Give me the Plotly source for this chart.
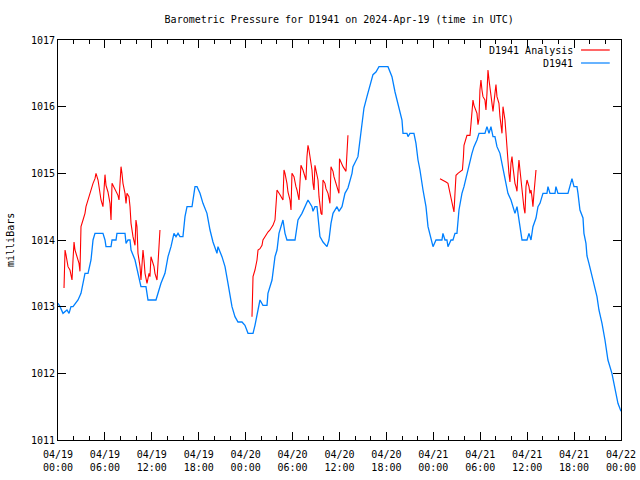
import pandas as pd
import plotly.graph_objects as go

START = "2024-04-19 00:00"

# D1941 observed pressure (hours since 04/19 00:00 UTC, mbar)
blue_h = [0.00, 0.26, 0.64, 1.15, 1.41, 1.66, 1.92, 2.30, 2.56, 2.94, 3.20, 3.45, 3.84, 4.22, 4.48, 4.73,
          5.75, 6.01, 6.14, 6.78, 6.91, 7.42, 7.54, 8.57, 8.70, 8.95, 9.21, 9.34, 9.85, 10.23, 10.61, 11.25,
          11.51, 12.53, 12.79, 13.17, 13.68, 14.07, 14.45, 14.83, 15.09, 15.35, 15.60, 15.98, 16.24, 16.50,
          17.14, 17.52, 17.78, 18.16, 18.54, 19.05, 19.44, 19.82, 20.33, 20.46, 20.97, 21.36, 21.74, 22.25,
          22.63, 23.02, 23.53, 23.91, 24.30, 24.94, 25.19, 25.45, 25.83, 26.21, 26.73, 26.85, 27.37, 27.75,
          28.01, 28.26, 28.77, 29.03, 29.28, 30.31, 30.69, 31.20, 31.59, 31.97, 32.48, 32.61, 32.86, 33.12,
          33.25, 33.50, 33.89, 34.40, 34.65, 34.91, 35.17, 35.68, 35.93, 36.32, 36.70, 37.08, 37.60, 37.72,
          38.36, 38.62, 38.87, 39.13, 39.51, 39.90, 40.28, 40.66, 41.05, 42.20, 42.71, 43.10, 43.48, 43.99,
          44.12, 44.63, 44.76, 45.01, 45.52, 45.78, 46.04, 46.29, 46.68, 47.06, 47.32, 47.70, 47.96, 48.34,
          49.10, 49.23, 49.49, 49.74, 49.87, 50.26, 50.51, 50.77, 51.02, 51.28, 51.66, 51.92, 52.30, 52.56,
          52.94, 53.20, 53.58, 53.84, 54.60, 54.86, 55.12, 55.37, 55.63, 55.88, 56.14, 56.52, 56.91, 57.16,
          57.54, 57.93, 58.18, 58.44, 58.70, 58.82, 59.08, 59.34, 59.98, 60.23, 60.49, 60.74, 61.13, 61.38,
          61.64, 62.02, 62.53, 62.66, 62.92, 63.56, 63.68, 63.94, 65.22, 65.47, 65.73, 65.99, 66.37, 66.50,
          66.75, 67.14, 67.26, 67.52, 67.65, 67.90, 68.29, 68.54, 68.93, 69.18, 69.57, 69.95, 70.33, 70.84,
          71.23, 71.61, 72.00]
blue_p = [1013.05, 1013.0, 1012.9, 1012.95, 1012.9, 1013.0, 1013.0, 1013.05, 1013.1, 1013.2, 1013.35, 1013.5,
          1013.5, 1013.7, 1014.0, 1014.1, 1014.1, 1014.0, 1013.9, 1013.9, 1014.0, 1014.0, 1014.1, 1014.1,
          1013.95, 1014.0, 1014.0, 1013.85, 1013.7, 1013.5, 1013.3, 1013.3, 1013.1, 1013.1, 1013.2, 1013.35,
          1013.5, 1013.75, 1013.9, 1014.1, 1014.05, 1014.1, 1014.05, 1014.05, 1014.35, 1014.5, 1014.5, 1014.8,
          1014.8, 1014.7, 1014.55, 1014.4, 1014.15, 1013.97, 1013.8, 1013.9, 1013.75, 1013.6, 1013.35, 1013.0,
          1012.85, 1012.77, 1012.77, 1012.72, 1012.6, 1012.6, 1012.72, 1012.9, 1013.1, 1013.02, 1013.02, 1013.2,
          1013.4, 1013.75, 1013.85, 1014.1, 1014.3, 1014.1, 1014.0, 1014.0, 1014.3, 1014.4, 1014.5, 1014.6,
          1014.5, 1014.43, 1014.5, 1014.5, 1014.35, 1014.05, 1013.97, 1013.9, 1014.0, 1014.25, 1014.4, 1014.5,
          1014.43, 1014.5, 1014.7, 1014.78, 1015.0, 1015.1, 1015.25, 1015.5, 1015.77, 1015.98, 1016.15, 1016.33,
          1016.48, 1016.52, 1016.6, 1016.6, 1016.45, 1016.22, 1016.05, 1015.8, 1015.6, 1015.6, 1015.55, 1015.6,
          1015.6, 1015.45, 1015.2, 1015.05, 1014.75, 1014.5, 1014.2, 1014.0, 1013.9, 1014.0, 1014.0, 1014.1,
          1014.0, 1014.0, 1013.9, 1014.0, 1014.0, 1014.1, 1014.1, 1014.45, 1014.7, 1014.8, 1015.0, 1015.1,
          1015.3, 1015.4, 1015.5, 1015.6, 1015.6, 1015.7, 1015.6, 1015.7, 1015.55, 1015.55, 1015.4, 1015.3,
          1015.05, 1014.9, 1014.7, 1014.6, 1014.5, 1014.4, 1014.5, 1014.4, 1014.2, 1014.0, 1014.0, 1014.1,
          1014.0, 1014.2, 1014.33, 1014.5, 1014.55, 1014.7, 1014.7, 1014.8, 1014.7, 1014.7, 1014.8, 1014.7,
          1014.7, 1014.8, 1014.92, 1014.8, 1014.8, 1014.7, 1014.45, 1014.33, 1014.1, 1013.95, 1013.76, 1013.65,
          1013.45, 1013.3, 1013.15, 1012.95, 1012.75, 1012.5, 1012.2, 1012.0, 1011.75, 1011.55, 1011.43]

# D1941 Analysis (three separate segments)
red1_h = [0.77, 0.90, 1.02, 1.28, 1.53, 1.66, 1.79, 1.92, 2.05, 2.17, 2.43, 2.69, 2.81, 2.94, 3.20, 3.45,
          3.58, 3.84, 4.09, 4.22, 4.48, 4.73, 4.86, 5.12, 5.37, 5.50, 5.75, 5.88, 6.01, 6.14, 6.39, 6.65,
          6.78, 6.91, 7.29, 7.67, 7.80, 8.06, 8.18, 8.31, 8.57, 8.70, 8.82, 9.08, 9.21, 9.34, 9.59, 9.85,
          9.97, 10.10, 10.23, 10.49, 10.61, 10.87, 11.00, 11.13, 11.38, 11.64, 11.76, 11.89, 12.02, 12.28,
          12.40, 12.66, 12.79, 13.04]
red1_p = [1013.28, 1013.85, 1013.78, 1013.6, 1013.55, 1013.45, 1013.4, 1013.7, 1013.97, 1013.85, 1013.75,
          1013.65, 1013.53, 1014.2, 1014.3, 1014.4, 1014.5, 1014.6, 1014.7, 1014.77, 1014.85, 1014.92, 1015.0,
          1014.9, 1014.72, 1014.6, 1014.5, 1014.7, 1014.98, 1014.82, 1014.72, 1014.55, 1014.3, 1014.85,
          1014.75, 1014.67, 1014.6, 1015.1, 1015.0, 1014.85, 1014.7, 1014.55, 1014.7, 1014.65, 1014.5,
          1014.25, 1014.05, 1013.92, 1014.3, 1014.2, 1013.8, 1013.6, 1013.4, 1013.85, 1013.7, 1013.5, 1013.35,
          1013.5, 1013.45, 1013.75, 1013.7, 1013.6, 1013.5, 1013.4, 1013.65, 1014.15]

red2_h = [24.81, 24.88, 24.94, 25.19, 25.45, 25.58, 25.83, 26.09, 26.21, 26.47, 26.73, 26.85, 27.11, 27.37,
          27.49, 27.75, 27.88, 28.01, 28.39, 28.64, 28.77, 28.90, 29.03, 29.28, 29.41, 29.67, 29.80, 29.92,
          30.18, 30.43, 30.56, 30.82, 30.95, 31.07, 31.33, 31.46, 31.71, 31.84, 31.97, 32.10, 32.35, 32.48,
          32.61, 32.74, 32.86, 33.12, 33.25, 33.38, 33.63, 33.76, 33.89, 34.14, 34.27, 34.53, 34.65, 34.78,
          34.91, 35.17, 35.29, 35.55, 35.68, 35.93, 36.00, 36.19, 36.45, 36.83, 36.96, 37.08]
red2_p = [1012.85, 1013.13, 1013.45, 1013.55, 1013.7, 1013.85, 1013.87, 1013.92, 1014.0, 1014.05, 1014.1,
          1014.12, 1014.15, 1014.2, 1014.22, 1014.3, 1014.6, 1014.75, 1014.68, 1014.62, 1014.6, 1015.05,
          1015.0, 1014.85, 1014.72, 1014.6, 1014.45, 1015.0, 1014.95, 1014.8, 1014.75, 1014.6, 1014.85,
          1015.12, 1015.05, 1015.0, 1014.9, 1015.25, 1015.42, 1015.35, 1015.15, 1015.05, 1014.85, 1014.75,
          1015.12, 1015.0, 1014.9, 1014.65, 1014.4, 1014.38, 1014.9, 1014.85, 1014.77, 1014.7, 1014.6,
          1014.55, 1015.1, 1015.03, 1014.95, 1014.85, 1014.77, 1014.7, 1015.22, 1015.17, 1015.1, 1015.03,
          1015.3, 1015.57]

red3_h = [48.85, 49.23, 49.62, 49.87, 50.00, 50.26, 50.38, 50.51, 50.64, 50.77, 50.90, 51.15, 51.41, 51.72,
          51.85, 51.92, 52.30, 52.69, 52.81, 52.94, 53.07, 53.20, 53.32, 53.58, 53.71, 53.84, 53.96, 54.09,
          54.22, 54.35, 54.60, 54.73, 54.86, 54.99, 55.12, 55.37, 55.50, 55.63, 55.88, 56.01, 56.14, 56.39,
          56.52, 56.65, 56.78, 56.91, 57.03, 57.16, 57.29, 57.42, 57.54, 57.67, 57.80, 57.93, 58.06, 58.18,
          58.31, 58.44, 58.57, 58.70, 58.82, 58.95, 59.08, 59.21, 59.34, 59.46, 59.59, 59.72, 59.85, 59.98,
          60.23, 60.36, 60.49, 60.61, 60.74, 60.87, 61.00, 61.13]
red3_p = [1014.92, 1014.9, 1014.87, 1014.85, 1014.78, 1014.65, 1014.57, 1014.5, 1014.42, 1014.7, 1014.97,
          1015.0, 1015.03, 1015.05, 1015.25, 1015.42, 1015.57, 1015.57, 1015.73, 1015.95, 1016.1, 1016.02,
          1015.97, 1015.9, 1015.73, 1015.82, 1016.25, 1016.4, 1016.25, 1016.15, 1016.1, 1015.95, 1016.2,
          1016.55, 1016.4, 1016.2, 1016.1, 1015.93, 1016.2, 1016.33, 1016.15, 1016.05, 1015.85, 1015.7,
          1015.6, 1016.0, 1015.9, 1015.8, 1015.6, 1015.32, 1015.2, 1015.0, 1014.87, 1015.15, 1015.25, 1015.1,
          1014.95, 1014.85, 1014.8, 1014.73, 1015.0, 1015.2, 1015.05, 1014.9, 1014.7, 1014.6, 1014.48, 1014.4,
          1014.8, 1014.9, 1014.8, 1014.7, 1014.75, 1014.65, 1014.5, 1014.7, 1014.9, 1015.05]

y_ticks = [1011, 1012, 1013, 1014, 1015, 1016, 1017]

RED = "#ff0000"
BLUE = "#0080ff"
FONT = "DejaVu Sans Mono"


def to_time(hours):
    return pd.Timestamp(START) + pd.to_timedelta(hours, unit="h")


fig = go.Figure()
for h, p in [(red1_h, red1_p), (red2_h, red2_p), (red3_h, red3_p)]:
    fig.add_trace(go.Scatter(x=to_time(h), y=p, mode="lines", line=dict(color=RED, width=1.1),
                             showlegend=False, hoverinfo="skip"))
fig.add_trace(go.Scatter(x=to_time(blue_h), y=blue_p, mode="lines", line=dict(color=BLUE, width=1.3),
                         showlegend=False))

fig.update_layout(
    width=640, height=480, autosize=False,
    margin=dict(l=58, r=19, t=40, b=40),
    paper_bgcolor="white", plot_bgcolor="white",
    font=dict(family=FONT, size=10, color="black"),
    title=dict(text="Barometric Pressure for D1941 on 2024-Apr-19 (time in UTC)",
               x=0.530, xanchor="center", y=0.960, yanchor="middle",
               font=dict(family=FONT, size=10, color="black")),
    showlegend=False,
)
fig.update_xaxes(
    type="date", range=[to_time(0), to_time(72)], automargin=False,
    dtick=6 * 3600 * 1000, tick0=to_time(0), tickformat="%m/%d<br>%H:%M",
    ticklabeloverflow="allow", ticklabelstandoff=5,
    showgrid=False, zeroline=False, showline=True, linecolor="black", linewidth=1, mirror="allticks",
    ticks="inside", ticklen=8, tickcolor="black",
    minor=dict(dtick=2 * 3600 * 1000, ticks="inside", ticklen=4, tickcolor="black", showgrid=False),
    tickfont=dict(family=FONT, size=10),
)
fig.update_yaxes(
    range=[1011, 1017], tickvals=y_ticks, ticktext=[str(v) for v in y_ticks], automargin=False,
    showgrid=False, zeroline=False, showline=True, linecolor="black", linewidth=1, mirror="allticks",
    ticks="inside", ticklen=8, tickcolor="black",
    tickfont=dict(family=FONT, size=10),
)

# y-axis label
fig.add_annotation(text="milliBars", xref="paper", yref="paper", x=-0.0853, y=0.5,
                   textangle=-90, showarrow=False, xanchor="center", yanchor="middle",
                   font=dict(family=FONT, size=10))

# gnuplot-style key: text then line sample
legend_items = [("D1941 Analysis", RED, 0.975), ("D1941", BLUE, 0.9425)]
for label, color, ky in legend_items:
    fig.add_annotation(text=label, xref="paper", yref="paper", x=0.918, y=ky, xanchor="right",
                       yanchor="middle", showarrow=False, font=dict(family=FONT, size=10))
    fig.add_shape(type="line", xref="paper", yref="paper", x0=0.929, x1=0.980, y0=ky, y1=ky,
                  line=dict(color=color, width=1.2))

fig.write_html("out.html", config={"displayModeBar": False},
               post_script="document.body.style.margin='0px';")
